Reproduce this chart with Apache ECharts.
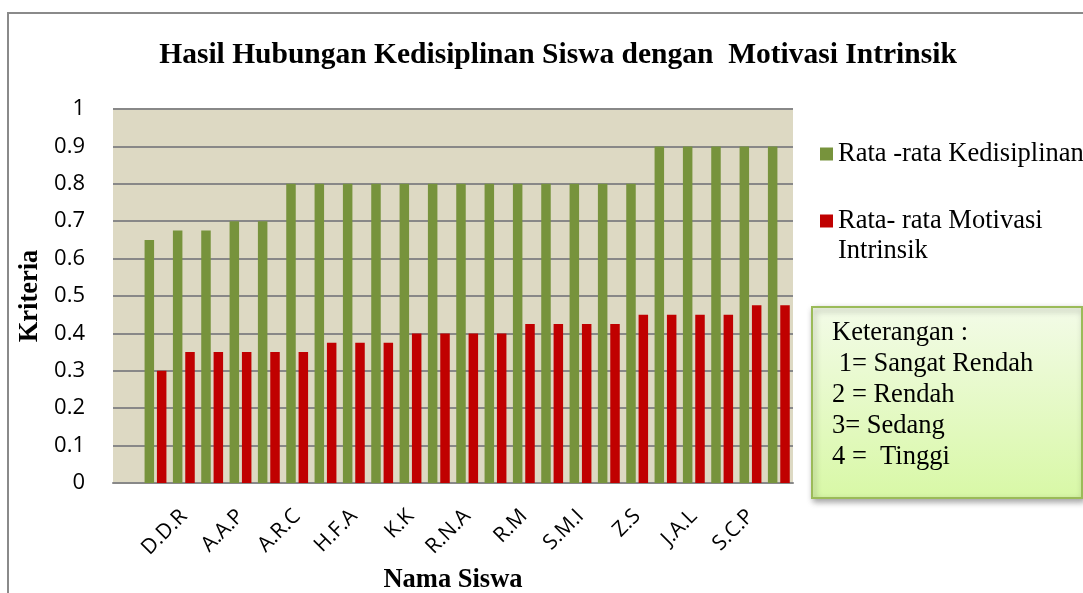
<!DOCTYPE html>
<html>
<head>
<meta charset="utf-8">
<script src="https://cdn.jsdelivr.net/npm/echarts@6/dist/echarts.min.js"></script>
<style>
  html, body { margin: 0; padding: 0; background: #fff; }
  #chart { width: 1083px; height: 593px; }
</style>
</head>
<body>
<div id="chart"></div>
<script>
// first slot is empty in the original sheet, only every 2nd name is printed
var students = ['', '', 'D.D.R', '', 'A.A.P', '', 'A.R.C', '', 'H.F.A', '', 'K.K', '',
  'R.N.A', '', 'R.M', '', 'S.M.I', '', 'Z.S', '', 'J.A.L', '', 'S.C.P', ''];
var kedisiplinan = [null, 0.65, 0.675, 0.675, 0.7, 0.7, 0.8, 0.8, 0.8, 0.8, 0.8, 0.8,
  0.8, 0.8, 0.8, 0.8, 0.8, 0.8, 0.8, 0.9, 0.9, 0.9, 0.9, 0.9];
var motivasi = [null, 0.3, 0.35, 0.35, 0.35, 0.35, 0.35, 0.375, 0.375, 0.375, 0.4, 0.4,
  0.4, 0.4, 0.425, 0.425, 0.425, 0.425, 0.45, 0.45, 0.45, 0.45, 0.475, 0.475];
var keterangan = ['Keterangan :', ' 1= Sangat Rendah', '2 = Rendah', '3= Sedang', '4 =  Tinggi'];

var serif = 'Liberation Serif, Times New Roman, serif';
var sans = 'Open Sans, Liberation Sans, sans-serif';

var chart = echarts.init(document.getElementById('chart'));

var option = {
  animation: false,
  backgroundColor: '#fff',
  title: {
    text: 'Hasil Hubungan Kedisiplinan Siswa dengan  Motivasi Intrinsik',
    left: 553,
    textAlign: 'center',
    top: 35,
    textStyle: { fontFamily: serif, fontSize: 29.5, fontWeight: 'bold', color: '#000' }
  },
  legend: [{
    orient: 'vertical',
    left: 815,
    top: 134,
    itemWidth: 13,
    itemHeight: 13,
    icon: 'rect',
    data: ['Rata -rata Kedisiplinan'],
    textStyle: { fontFamily: serif, fontSize: 26.5, color: '#000', lineHeight: 30 }
  }, {
    orient: 'vertical',
    left: 815,
    top: 171,
    itemWidth: 13,
    itemHeight: 13,
    icon: 'rect',
    data: ['Rata- rata Motivasi Intrinsik'],
    // blank first line keeps the marker level with the first line of text
    formatter: function () { return ' \nRata- rata Motivasi\nIntrinsik'; },
    textStyle: { fontFamily: serif, fontSize: 26.5, color: '#000', lineHeight: 30 }
  }],
  grid: {
    left: 113, right: 290, top: 109, bottom: 110,
    outerBoundsMode: 'none',
    show: true, backgroundColor: '#DDD9C3', borderWidth: 0
  },
  xAxis: {
    type: 'category',
    data: students,
    name: 'Nama Siswa',
    nameLocation: 'middle',
    nameGap: 84,
    nameTextStyle: { fontFamily: serif, fontSize: 26.5, fontWeight: 'bold', color: '#000' },
    axisLine: { lineStyle: { color: '#888', width: 2 } },
    axisTick: { show: false },
    axisLabel: { interval: 1, rotate: 45, margin: 30, fontFamily: sans, fontSize: 21, color: '#000' }
  },
  yAxis: {
    type: 'value',
    min: 0,
    max: 1,
    interval: 0.1,
    name: 'Kriteria',
    nameLocation: 'middle',
    nameGap: 67,
    nameTextStyle: { fontFamily: serif, fontSize: 26.5, fontWeight: 'bold', color: '#000' },
    axisLine: { show: false },
    axisTick: { show: false },
    axisLabel: { margin: 28, fontFamily: sans, fontSize: 22, color: '#000' },
    splitLine: { lineStyle: { color: '#888', width: 2 } }
  },
  series: [{
    name: 'Rata -rata Kedisiplinan',
    type: 'bar',
    data: kedisiplinan,
    barWidth: 9.5,
    barGap: '30%',
    itemStyle: { color: '#77933C' }
  }, {
    name: 'Rata- rata Motivasi Intrinsik',
    type: 'bar',
    data: motivasi,
    barWidth: 9.5,
    itemStyle: { color: '#C00000' }
  }],
  graphic: [{
    type: 'rect',
    z: -10,
    shape: { x: 8, y: 13, width: 1200, height: 700 },
    style: { fill: 'none', stroke: '#8a8a8a', lineWidth: 2 }
  }, {
    type: 'rect',
    shape: { x: 812, y: 307, width: 270, height: 191 },
    style: {
      fill: new echarts.graphic.LinearGradient(0, 0, 0, 1, [
        { offset: 0, color: '#F3FBE8' },
        { offset: 1, color: '#D8F8A6' }
      ]),
      stroke: '#9BBB59',
      lineWidth: 2,
      shadowBlur: 6,
      shadowOffsetX: 2,
      shadowOffsetY: 3,
      shadowColor: 'rgba(0,0,0,0.35)'
    }
  }, {
    type: 'text',
    left: 832,
    top: 318,
    style: {
      text: keterangan.join('\n'),
      fontFamily: serif,
      fontSize: 26.5,
      lineHeight: 31,
      fill: '#000'
    }
  }]
};

chart.setOption(option);
</script>
</body>
</html>
